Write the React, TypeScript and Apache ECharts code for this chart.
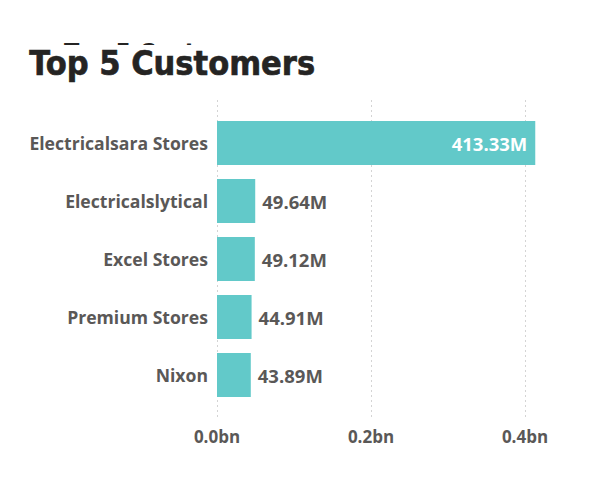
import React, { useEffect, useRef } from "react";
import * as echarts from "echarts";

const categories = ["Electricalsara Stores", "Electricalslytical", "Excel Stores", "Premium Stores", "Nixon"];
const valuesM = [413.33, 49.64, 49.12, 44.91, 43.89];
const xTicksM = [0, 200, 400];

const BAR = "#62C9C9";
const GRAY = "#5A5857";
const LABEL_FONT = "'Open Sans', 'Noto Sans', sans-serif";
const TITLE_FONT = "'DejaVu Sans Condensed', 'DejaVu Sans', sans-serif";

export default function App() {
  const ref = useRef<HTMLDivElement>(null);
  useEffect(() => {
    if (!ref.current) return;
    const chart = echarts.init(ref.current, null, { renderer: "svg" });
    const big = valuesM[0];
    chart.setOption({
      animation: false,
      backgroundColor: "#ffffff",
      graphic: [
        {
          type: "text",
          left: 64,
          top: 40,
          z: 1,
          style: {
            text: "Top 5 Customers",
            fontFamily: TITLE_FONT,
            fontWeight: "bold",
            fontSize: 25,
            fill: "#252423",
          },
        },
        {
          type: "rect",
          z: 2,
          shape: { x: 0, y: 45, width: 360, height: 45 },
          style: { fill: "#ffffff" },
        },
        {
          type: "text",
          left: 29,
          top: 46,
          z: 3,
          style: {
            text: "Top 5 Customers",
            fontFamily: TITLE_FONT,
            fontWeight: "bold",
            fontSize: 34,
            fill: "#252423",
            stroke: "#252423",
            lineWidth: 0.6,
          },
        },
      ],
      grid: [
        { left: 217, top: 114, width: 308, height: 290, containLabel: false },
        { left: 217, top: 100, width: 308, height: 320, containLabel: false },
      ],
      xAxis: [
        {
          type: "value",
          gridIndex: 0,
          min: 0,
          max: 400,
          interval: 200,
          show: false,
          splitLine: { show: false },
        },
        {
          type: "value",
          gridIndex: 1,
          min: 0,
          max: 400,
          interval: 200,
          axisLine: { show: false },
          axisTick: { show: false },
          splitLine: { show: true, lineStyle: { type: [2, 3], color: "#d4d4d4", width: 1 } },
          axisLabel: {
            margin: 8,
            fontFamily: LABEL_FONT,
            fontWeight: "bold",
            fontSize: 17,
            color: GRAY,
            customValues: xTicksM,
            formatter: (v: number) => (v / 1000).toFixed(1) + "bn",
          },
        },
      ],
      yAxis: [
        {
          type: "category",
          gridIndex: 0,
          data: categories,
          inverse: true,
          axisLine: { show: false },
          axisTick: { show: false },
          splitLine: { show: false },
          axisLabel: {
            margin: 9,
            fontFamily: LABEL_FONT,
            fontWeight: "bold",
            fontSize: 17.6,
            color: GRAY,
          },
        },
        {
          type: "category",
          gridIndex: 1,
          data: categories,
          show: false,
        },
      ],
      series: [
        {
          type: "bar",
          xAxisIndex: 0,
          yAxisIndex: 0,
          data: valuesM.map((v) => ({
            value: v,
            label: v === big
              ? { show: true, position: "insideRight", distance: 8, color: "#ffffff" }
              : { show: true, position: "right", distance: 7, color: GRAY },
          })),
          barCategoryGap: "24%",
          clip: false,
          itemStyle: { color: BAR },
          label: {
            show: true,
            fontFamily: LABEL_FONT,
            fontWeight: "bold",
            fontSize: 18.5,
            formatter: (p: any) => Number(p.value).toFixed(2) + "M",
          },
        },
      ],
    });
    return () => chart.dispose();
  }, []);
  return <div ref={ref} style={{ width: 615, height: 488, margin: -8 }} />;
}
